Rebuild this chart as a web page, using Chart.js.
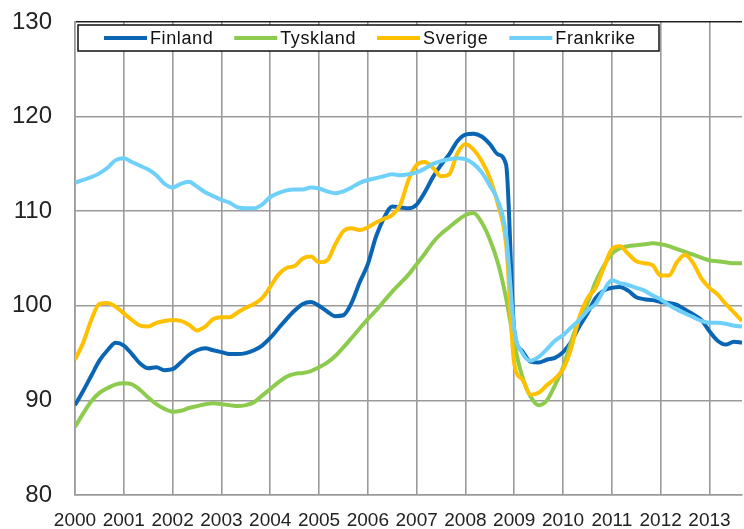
<!DOCTYPE html>
<html>
<head>
<meta charset="utf-8">
<script src="https://cdn.jsdelivr.net/npm/chart.js@4/dist/chart.umd.min.js"></script>
<style>
  html, body { margin: 0; padding: 0; background: #fff; }
  #wrap { width: 744px; height: 529px; }
</style>
</head>
<body>
<div id="wrap"><canvas id="grafico" width="744" height="529"></canvas></div>
<script>
// ===== Datos (un punto cada 2 meses, ene 2000 -> sep 2013) =====
const anios = [2000, 2001, 2002, 2003, 2004, 2005, 2006, 2007, 2008, 2009, 2010, 2011, 2012, 2013];
const valoresY = [80, 90, 100, 110, 120, 130];
const series = ["Finland", "Tyskland", "Sverige", "Frankrike"];

const finland = [
  89.5, 91.0, 92.6, 94.2, 95.3, 96.1, 95.8, 94.9, 93.9, 93.4, 93.5, 93.2,
  93.3, 94.0, 94.8, 95.3, 95.5, 95.3, 95.1, 94.9, 94.9, 95.0, 95.3, 95.8,
  96.6, 97.6, 98.6, 99.5, 100.2, 100.4, 100.0, 99.4, 98.9, 99.0, 100.3, 102.5,
  104.4, 107.3, 109.3, 110.5, 110.4, 110.3, 110.7, 112.0, 113.6, 114.9, 116.0, 117.4,
  118.1, 118.2, 117.9, 117.1, 116.0, 114.9, 97.4, 95.2, 94.1, 94.0, 94.3, 94.5,
  95.1, 96.2, 97.8, 99.2, 100.8, 101.6, 101.9, 102.0, 101.6, 100.9, 100.7, 100.6,
  100.4, 100.3, 100.1, 99.6, 99.1, 98.5, 97.3, 96.3, 95.9, 96.2, 96.1
];
const tyskland = [
  87.2, 88.6, 89.9, 90.8, 91.3, 91.7, 91.8, 91.7, 91.1, 90.3, 89.6, 89.1,
  88.8, 88.9, 89.2, 89.4, 89.6, 89.7, 89.6, 89.5, 89.4, 89.5, 89.8, 90.5,
  91.2, 91.9, 92.5, 92.8, 92.9, 93.1, 93.5, 94.0, 94.7, 95.6, 96.6, 97.6,
  98.6, 99.5, 100.5, 101.5, 102.4, 103.3, 104.4, 105.5, 106.7, 107.6, 108.3, 109.0,
  109.6, 109.8, 108.8, 107.0, 104.5, 100.8, 96.0, 92.5, 90.4, 89.5, 90.0, 91.6,
  93.5, 96.2, 98.6, 100.3, 102.5, 104.2, 105.5, 106.1, 106.3, 106.4, 106.5, 106.6,
  106.5, 106.3, 106.0, 105.7, 105.4, 105.1, 104.8, 104.7, 104.6, 104.5, 104.5
];
const sverige = [
  94.3, 96.1, 98.5, 100.2, 100.3, 99.9, 99.2, 98.5, 97.9, 97.8, 98.2, 98.4,
  98.5, 98.4, 98.0, 97.4, 97.8, 98.6, 98.8, 98.8, 99.3, 99.8, 100.2, 100.8,
  102.0, 103.3, 104.0, 104.2, 105.0, 105.2, 104.6, 104.8, 106.5, 107.9, 108.2, 108.0,
  108.3, 108.8, 109.2, 109.6, 110.7, 113.3, 114.9, 115.2, 114.6, 113.7, 113.9, 116.1,
  117.1, 116.5, 115.3, 113.5, 110.7, 106.5, 93.9, 92.2, 90.6, 90.8, 91.6, 92.3,
  93.3, 95.5, 98.8, 100.8, 101.9, 104.0, 106.0, 106.3, 105.5, 104.7, 104.5, 104.3,
  103.2, 103.2, 104.6, 105.4, 104.5, 102.9, 101.9, 101.2, 100.2, 99.3, 98.4
];
const frankrike = [
  113.0, 113.3, 113.6, 114.0, 114.6, 115.4, 115.6, 115.2, 114.8, 114.4, 113.8, 112.9,
  112.5, 112.9, 113.1, 112.6, 112.0, 111.6, 111.2, 110.9, 110.4, 110.3, 110.3, 110.7,
  111.5, 111.9, 112.2, 112.3, 112.3, 112.5, 112.4, 112.1, 111.9, 112.1, 112.5, 113.0,
  113.3, 113.5, 113.7, 113.9, 113.8, 113.9, 114.1, 114.5, 115.0, 115.3, 115.5, 115.6,
  115.5, 115.0, 114.1, 112.7, 111.1, 107.5, 97.5, 95.0, 94.2, 94.6, 95.4, 96.3,
  96.9, 97.7, 98.5, 99.5, 100.2, 101.6, 102.7, 102.4, 102.2, 101.9, 101.6, 101.1,
  100.7, 100.1, 99.6, 99.2, 98.8, 98.4, 98.2, 98.2, 98.1, 97.9, 97.8
];

const colores = { Finland: "#0a66b4", Tyskland: "#8dcb4e", Sverige: "#ffc000", Frankrike: "#6fd0fa" };
const ordenDibujo = { Finland: 3, Tyskland: 2, Sverige: 1, Frankrike: 0 };

// ===== Utilidades =====
function aPuntos(valores) {
  return valores.map((v, i) => ({ x: anios[0] + i / 6, y: v }));
}

// leyenda dentro del área, con marco negro
const leyendaCaja = {
  id: "leyendaCaja",
  afterDraw(chart) {
    const ctx = chart.ctx;
    ctx.save();
    ctx.fillStyle = "#fff";
    ctx.fillRect(78, 25, 581, 26);
    ctx.strokeStyle = "#111";
    ctx.lineWidth = 1.5;
    ctx.strokeRect(78, 25, 581, 26);
    ctx.font = "18px 'Liberation Sans', Arial, sans-serif";
    ctx.letterSpacing = "0.6px";
    ctx.textBaseline = "middle";
    let x = 104;
    chart.data.datasets.forEach(ds => {
      ctx.strokeStyle = ds.borderColor;
      ctx.lineWidth = 4;
      ctx.beginPath();
      ctx.moveTo(x, 38);
      ctx.lineTo(x + 43, 38);
      ctx.stroke();
      ctx.fillStyle = "#111";
      ctx.fillText(ds.label, x + 46, 39);
      x += 46 + ctx.measureText(ds.label).width + 21;
    });
    ctx.restore();
  }
};

// ===== Chart =====
const datosSeries = { Finland: finland, Tyskland: tyskland, Sverige: sverige, Frankrike: frankrike };

new Chart(document.getElementById("grafico"), {
  type: "line",
  data: {
    datasets: series.map(nombre => ({
      label: nombre,
      data: aPuntos(datosSeries[nombre]),
      borderColor: colores[nombre],
      borderWidth: 4,
      pointRadius: 0,
      fill: false,
      cubicInterpolationMode: "monotone",
      order: ordenDibujo[nombre]
    }))
  },
  options: {
    responsive: false,
    animation: false,
    layout: { padding: { left: 0, right: 2, top: 22, bottom: 0 } },
    plugins: { legend: { display: false }, tooltip: { enabled: false } },
    scales: {
      x: {
        type: "linear",
        min: anios[0],
        max: anios[0] + 82 / 6,
        afterBuildTicks: s => { s.ticks = anios.map(v => ({ value: v })); },
        // sin relleno extra por las etiquetas
        afterFit: s => { s.height = 34; s.paddingLeft = 0; s.paddingRight = 0; },
        grid: { color: "#9a9a9a", lineWidth: 1.6, drawTicks: false },
        border: { color: "#9a9a9a", width: 1.6 },
        ticks: {
          padding: 14,
          maxRotation: 0,
          autoSkip: false,
          color: "#222",
          font: { family: "'Liberation Sans', Arial, sans-serif", size: 19 },
          callback: v => String(v)
        }
      },
      y: {
        min: valoresY[0],
        max: valoresY[valoresY.length - 1],
        afterBuildTicks: s => { s.ticks = valoresY.map(v => ({ value: v })); },
        afterFit: s => { s.width = 75; s.paddingTop = 0; s.paddingBottom = 0; },
        grid: {
          color: c => (c.tick && c.tick.value === 130 ? "#222" : "#9a9a9a"),
          lineWidth: 1.6,
          drawTicks: false
        },
        border: { color: "#9a9a9a", width: 1.6 },
        ticks: {
          padding: 23,
          color: "#222",
          font: { family: "'Liberation Sans', Arial, sans-serif", size: 24 }
        }
      }
    }
  },
  plugins: [leyendaCaja]
});
</script>
</body>
</html>
